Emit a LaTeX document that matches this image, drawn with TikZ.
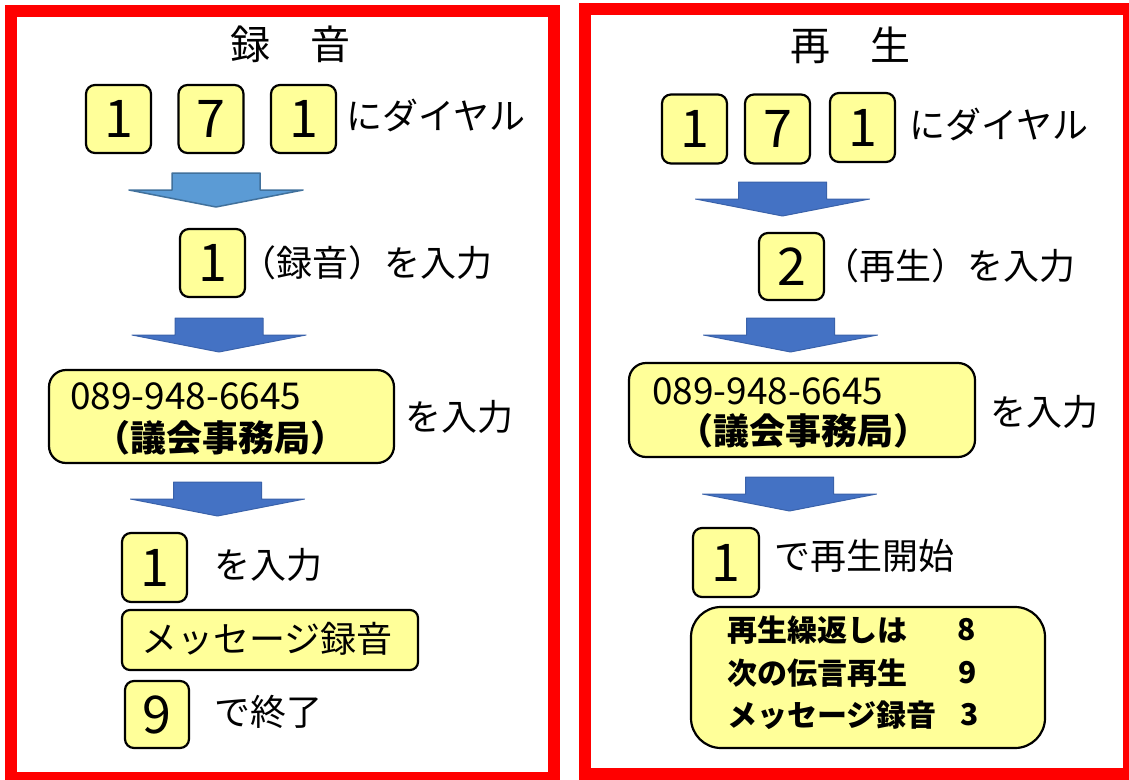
\documentclass[tikz,border=0pt]{standalone}
\usepackage{fontspec}
\setmainfont{Noto Sans CJK JP}
\definecolor{keyfill}{HTML}{FFFF99}
\definecolor{arrA}{HTML}{5B9BD5}
\definecolor{arrAline}{HTML}{41719C}
\definecolor{arrB}{HTML}{4472C4}
\definecolor{arrBline}{HTML}{3A62AA}
\definecolor{framered}{HTML}{FF0000}
\begin{document}
\begin{tikzpicture}[x=1pt,y=-1pt,
  frame/.style={draw=framered, line width=12pt},
  keybox/.style={draw=black, line width=2.2pt, fill=keyfill, rounded corners=9pt,
    minimum width=65pt, minimum height=68pt, inner sep=0pt,
    font=\fontsize{52}{52}\selectfont},
  panel/.style={draw=black, line width=2.2pt, fill=keyfill, inner sep=0pt},
  lbl/.style={anchor=west, inner sep=0pt, font=\fontsize{36}{36}\selectfont},
  boldlbl/.style={anchor=west, inner sep=0pt, font=\fontsize{36}{36}\selectfont\bfseries},
  title/.style={inner sep=0pt, font=\fontsize{40}{40}\selectfont},
  menu/.style={anchor=west, inner sep=0pt, font=\fontsize{30}{30}\selectfont\bfseries},
  menunum/.style={inner sep=0pt, font=\fontsize{30}{30}\selectfont\bfseries},
  arrowone/.style={fill=arrA, draw=arrAline, line width=1.5pt, line join=round},
  arrowtwo/.style={fill=arrB, draw=arrBline, line width=1pt, line join=round},
  blockarrow/.pic={\path[pic actions] (-44,0) -- (44,0) -- (44,17) -- (87,17) -- (0,34) -- (-87,17) -- (-44,17) -- cycle;}
]
\useasboundingbox[fill=white] (0,0) rectangle (1129,779);

% frames
\draw[frame] (11,11) rectangle (554,778);
\draw[frame] (585,9) rectangle (1129,774);

% ---------------- left panel: 録音 ----------------
\node[title] (ltitle) at (290,44) {録　音};
\node[keybox] (lk1) at (118.5,119) {1};
\node[keybox] (lk2) at (211,119) {7};
\node[keybox] (lk3) at (303.5,119) {1};
\node[lbl] (ldial) at (346,115) {にダイヤル};

\pic[arrowone] (la1) at (216,173) {blockarrow};

\node[keybox] (lrec) at (212.5,263) {1};
\node[lbl] (lrect) at (240,263) {（録音）を入力};

\pic[arrowtwo] (la2) at (219,318) {blockarrow};

\node[panel, rounded corners=17pt, minimum width=345pt, minimum height=93pt] (lphone) at (221.5,416.5) {};
\node[lbl, font=\fontsize{37}{37}\selectfont] (lnum) at (70,396) {089-948-6645};
\node[boldlbl] (loffice) at (94,438) {（議会事務局）};
\node[lbl] (lphonet) at (405,417) {を入力};

\pic[arrowtwo] (la3) at (217.5,482) {blockarrow};

\node[keybox, minimum height=69pt] (lone) at (154.5,567.5) {1};
\node[lbl] (lonet) at (214,565) {を入力};

\node[panel, rounded corners=8pt, minimum width=296pt, minimum height=60pt] (lmsg) at (270,640) {};
\node[lbl] (lmsgt) at (141,639) {メッセージ録音};

\node[keybox, minimum width=64pt, minimum height=67pt] (lnine) at (157,714.5) {9};
\node[lbl] (lninet) at (214,712) {で終了};

% ---------------- right panel: 再生 ----------------
\node[title] (rtitle) at (850.5,45) {再　生};
\node[keybox, minimum height=69pt] (rk1) at (694.5,129) {1};
\node[keybox, minimum height=69pt] (rk2) at (777.5,129) {7};
\node[keybox, minimum height=69pt] (rk3) at (862.5,127.5) {1};
\node[lbl] (rdial) at (909,124) {にダイヤル};

\pic[arrowtwo] (ra1) at (782.5,182) {blockarrow};

\node[keybox, minimum height=67pt] (rplay) at (791.5,266.5) {2};
\node[lbl] (rplayt) at (823,266) {（再生）を入力};

\pic[arrowtwo] (ra2) at (790.5,318) {blockarrow};

\node[panel, rounded corners=17pt, minimum width=346pt, minimum height=94pt] (rphone) at (802,410) {};
\node[lbl, font=\fontsize{37}{37}\selectfont] (rnum) at (652,391) {089-948-6645};
\node[boldlbl] (roffice) at (677,431) {（議会事務局）};
\node[lbl] (rphonet) at (990,412) {を入力};

\pic[arrowtwo] (ra3) at (789.5,477) {blockarrow};

\node[keybox, minimum width=66pt, minimum height=69pt] (rone) at (726,562.5) {1};
\node[lbl] (ronet) at (774,556) {で再生開始};

\node[panel, rounded corners=30pt, minimum width=354pt, minimum height=141pt] (rmenu) at (868,677.5) {};
\node[menu] (rm1) at (727,630) {再生繰返しは};
\node[menunum] (rm1n) at (967,630) {8};
\node[menu] (rm2) at (727,673) {次の伝言再生};
\node[menunum] (rm2n) at (968,673) {9};
\node[menu] (rm3) at (727,715) {メッセージ録音};
\node[menunum] (rm3n) at (970,715) {3};
\end{tikzpicture}
\end{document}
